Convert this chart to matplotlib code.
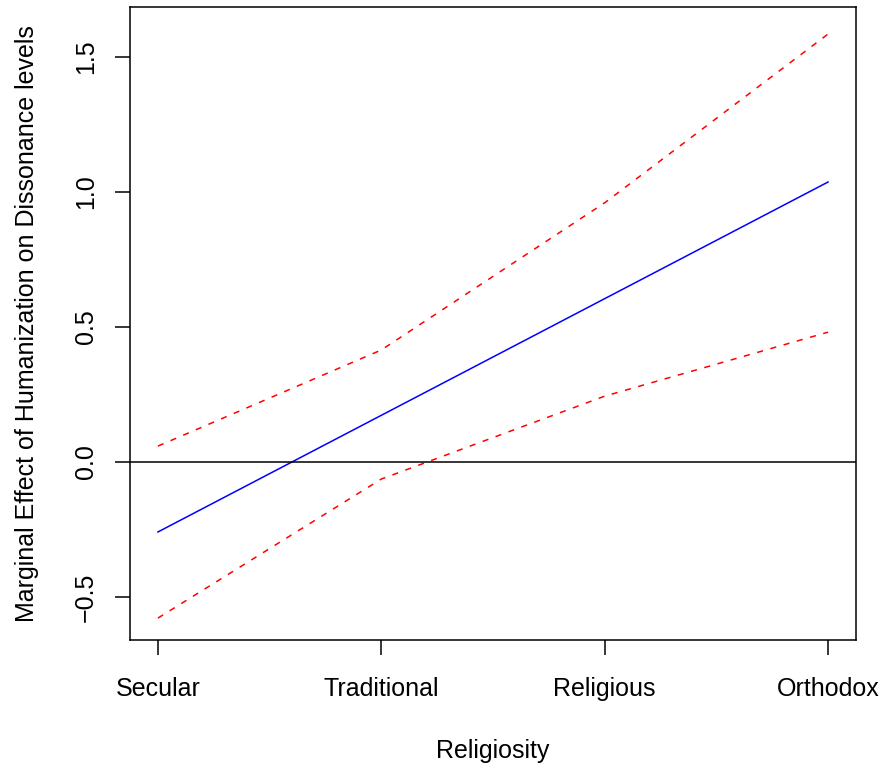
import matplotlib
matplotlib.use("Agg")
import matplotlib.pyplot as plt

plt.rcParams['font.family'] = ['Liberation Sans', 'DejaVu Sans']

categories = ["Secular", "Traditional", "Religious", "Orthodox"]
xpos = [1, 2, 3, 4]
effect = [-0.259, 0.173, 0.605, 1.037]
upper = [0.059, 0.415, 0.960, 1.585]
lower = [-0.578, -0.063, 0.244, 0.481]

fig = plt.figure(figsize=(8.86, 7.65), dpi=100)
ax = fig.add_axes([0.1467, 0.1634, 0.8194, 0.8274])

ax.plot(xpos, effect, color="blue", lw=1.1)
ax.plot(xpos, upper, color="red", lw=1.1, ls=(0, (4, 5)))
ax.plot(xpos, lower, color="red", lw=1.1, ls=(0, (4, 5)))
ax.axhline(0, color="black", lw=1.1)

ax.set_xlim(0.875, 4.125)
ax.set_ylim(-0.659, 1.685)
ax.set_xticks(xpos)
ax.set_xticklabels(categories)
yt = [-0.5, 0.0, 0.5, 1.0, 1.5]
ax.set_yticks(yt)
ax.set_yticklabels(["\u22120.5", "0.0", "0.5", "1.0", "1.5"], rotation=90, va="center")

for s in ["top", "right", "bottom", "left"]:
    ax.spines[s].set_linewidth(1.1)

ax.tick_params(axis="both", length=11, width=1.1, labelsize=18)
ax.tick_params(axis="x", pad=16)
ax.tick_params(axis="y", pad=12)
ax.set_xlabel("Religiosity", fontsize=18, labelpad=27)
ax.set_ylabel("Marginal Effect of Humanization on Dissonance levels", fontsize=18, labelpad=25)

plt.savefig("out.png", dpi=100)
